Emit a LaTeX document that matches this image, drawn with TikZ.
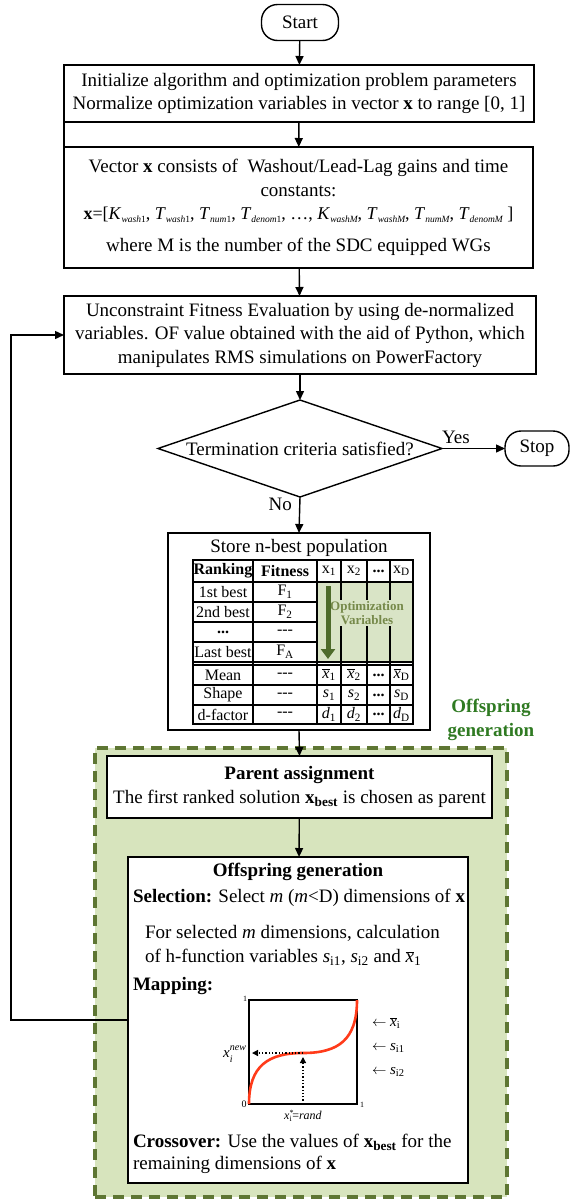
\documentclass[tikz,border=0pt]{standalone}
\usepackage{fontspec}
\setmainfont{Liberation Serif}
\usetikzlibrary{shapes.geometric,arrows.meta}
\definecolor{panelfill}{HTML}{D7E4BD}
\definecolor{paneledge}{HTML}{5E7633}
\definecolor{panellabel}{HTML}{2F7A22}
\definecolor{varfill}{HTML}{D9E4C6}
\definecolor{vartext}{HTML}{76894A}
\definecolor{vararrow}{HTML}{4E6B2B}
\definecolor{curvered}{HTML}{FF3B1A}
\newcommand\sub[1]{\textsubscript{#1}}
\newcommand\ital[1]{\textit{#1}}
\newcommand\xbr{\ensuremath{\overline{\mbox{\itshape x}}}}
\newcommand\vsub[2]{\ital{#1}\raisebox{-0.35ex}{\fontsize{9.5}{10}\selectfont\itshape #2}}
\newcommand\tdash{-{}-{}-}
\begin{document}
\begin{tikzpicture}[x=1pt,y=-1pt,
  every node/.style={inner sep=0pt, outer sep=0pt},
  base/.style={font=\fontsize{19}{23.5}\selectfont},
  box/.style={draw, line width=1.4pt, fill=white, align=center, base},
  term/.style={draw, line width=1.4pt, rounded corners=16pt, base},
  arr/.style={-{Triangle[length=9pt,width=8pt]}, line width=1.4pt},
  tbl/.style={font=\fontsize{16}{18}\selectfont},
  txt/.style={base, anchor=west},
  glab/.style={font=\fontsize{15}{16}\selectfont, anchor=west},
  tick/.style={font=\fontsize{8}{8}\selectfont}]
\useasboundingbox (0,0) rectangle (570,1200);

% ---------- main flow ----------
\node[term, minimum width=77pt, minimum height=36pt] (start) at (300,22.5) {Start};
\node[box, minimum width=470pt, minimum height=57pt] (b1) at (299,93.5)
  {Initialize algorithm and optimization problem parameters\\
   Normalize optimization variables in vector \textbf{x} to range [0, 1]};
\node[box, minimum width=469pt, minimum height=121pt] (b2) at (298.5,207.5)
  {Vector \textbf{x} consists of\ \ Washout/Lead-Lag gains and time\\
   constants:\\
   {\fontsize{18}{23.5}\selectfont\textbf{x}=[\vsub{K}{wash\upshape1}, \vsub{T}{wash\upshape1}, \vsub{T}{num\upshape1}, \vsub{T}{denom\upshape1}, \dots, \vsub{K}{washM}, \vsub{T}{washM}, \vsub{T}{numM}, \vsub{T}{denomM} ]}\\[8pt]
   where M is the number of the SDC equipped WGs};
\draw[line width=1.4pt] (b1.south west) -- (b2.north west);
\node[box, minimum width=472pt, minimum height=78pt] (b3) at (300,335)
  {Unconstraint Fitness Evaluation by using de-normalized\\
   variables. OF value obtained with the aid of Python, which\\
   manipulates RMS simulations on PowerFactory};
\node[diamond, draw, line width=1.4pt, minimum width=284pt, minimum height=97pt, aspect=2.9] (dec) at (300,448.5) {};
\node[base] (dectxt) at (dec.center) {Termination criteria satisfied?};
\node[term, minimum width=64pt, minimum height=35pt] (stop) at (537,448.5) {Stop};

\draw[arr] (start) -- (b1);
\draw[arr] (b1) -- (b2);
\draw[arr] (b2) -- (b3);
\draw[arr] (b3) -- (dec);
\draw[arr] (dec.east) -- node[base, above=5pt, pos=0.22] (yes) {Yes} (stop.west);

% ---------- population store ----------
\node[draw, line width=1.4pt, fill=white, minimum width=262pt, minimum height=197pt] (store) at (299,631.5) {};
\draw[arr] (dec.south) -- node[base, left=8pt, pos=0.2] (no) {No} (store.north);
\node[base] (storetitle) at (299,548) {Store n-best population};

\fill[varfill] (317,582) rectangle (413,662);
\begin{scope}[line width=1.4pt]
  \draw (193,560) rectangle (413,724);
  \foreach \cxp in {253,317,341,367,390} \draw (\cxp,560) -- (\cxp,724);
  \draw (193,582) -- (413,582);
  \foreach \ryp in {602,622,642} \draw (193,\ryp) -- (317,\ryp);
  \foreach \ryp in {662,665,685,705} \draw (193,\ryp) -- (413,\ryp);
\end{scope}
\node[font=\fontsize{13}{14}\selectfont\bfseries, text=vartext, fill=varfill, align=center, inner sep=1pt] (vars) at (367,613) {Optimization\\Variables};
\draw[vararrow, line width=5pt, -{Triangle[length=10pt,width=14pt]}] (328,586) -- (328,659);

% header and ranking rows
\foreach \nm/\yc/\ra/\rb in {h/571/\textbf{Ranking}/\textbf{Fitness},
    r1/592/1st best/F\sub{1}, r2/612/2nd best/F\sub{2},
    r3/632/\textbf{...}/\tdash, r4/652/Last best/F\sub{A},
    r5/675/Mean/\tdash, r6/695/Shape/\tdash, r7/714.5/d-factor/\tdash}{
  \node[tbl] (\nm-a) at (223,\yc) {\ra};
  \node[tbl] (\nm-b) at (285,\yc) {\rb};
}
\foreach \nm/\yc/\ca/\cb/\cc/\cd in {h/571/x\sub{1}/x\sub{2}/\textbf{...}/x\sub{D},
    r5/675/\xbr\sub{1}/\xbr\sub{2}/\textbf{...}/\xbr\sub{D},
    r6/695/\ital{s}\sub{1}/\ital{s}\sub{2}/\textbf{...}/\ital{s}\sub{D},
    r7/714.5/\ital{d}\sub{1}/\ital{d}\sub{2}/\textbf{...}/\ital{d}\sub{D}}{
  \node[tbl] (\nm-c) at (329,\yc) {\ca};
  \node[tbl] (\nm-d) at (354,\yc) {\cb};
  \node[tbl] (\nm-e) at (378.5,\yc) {\cc};
  \node[tbl] (\nm-f) at (401.5,\yc) {\cd};
}

% ---------- offspring panel ----------
\node[draw=paneledge, fill=panelfill, line width=3.5pt, dash pattern=on 11pt off 7pt,
      minimum width=412pt, minimum height=449pt] (panel) at (301,972.5) {};
\node[base, font=\fontsize{19}{23.5}\selectfont\bfseries, text=panellabel, align=center] (panellbl) at (491,720) {Offspring\\generation};

\node[box, minimum width=385pt, minimum height=62pt] (parent) at (299.5,787)
  {\textbf{Parent assignment}\\
   The first ranked solution \textbf{x}\sub{\textbf{best}} is chosen as parent};
\node[draw, line width=1.4pt, fill=white, minimum width=340pt, minimum height=326pt] (off) at (298,1020) {};

\draw[arr] (store.south) -- (parent.north);
\draw[arr] (parent) -- (off);

\node[base, font=\fontsize{19}{23.5}\selectfont\bfseries] (offtitle) at (298,872) {Offspring generation};
\node[txt] (sel) at (133,898) {\textbf{Selection:} Select \ital{m} (\ital{m}<D) dimensions of \textbf{x}};
\node[txt] (calc1) at (145,933) {For selected \ital{m} dimensions, calculation};
\node[txt] (calc2) at (145,957) {of h-function variables \ital{s}\sub{i1}, \ital{s}\sub{i2} and \xbr\sub{1}};
\node[txt] (mapl) at (133,986) {\textbf{Mapping:}};
\node[txt] (cross1) at (133,1142) {\textbf{Crossover:} Use the values of \textbf{x}\sub{\textbf{best}} for the};
\node[txt] (cross2) at (133,1165) {remaining dimensions of \textbf{x}};

% mapping curve
\draw[line width=1.4pt] (249,1000) rectangle (357,1104);
\draw[curvered, line width=2.6pt] (249,1104) .. controls (249,1066) and (268,1053) .. (303,1053)
  .. controls (338,1053) and (357,1040) .. (357,1000);
\draw[dotted, line width=1.3pt, -{Triangle[length=6pt,width=6pt]}] (303,1053) -- (252,1053);
\draw[dotted, line width=1.3pt, -{Triangle[length=6pt,width=6pt]}] (303,1104) -- (303,1057);
\node[tick] (t1) at (245,999) {1};
\node[tick, font=\fontsize{10}{10}\selectfont] (t0) at (244,1104) {0};
\node[tick] (t1b) at (362,1105) {1};
\node[font=\fontsize{15}{15}\selectfont, anchor=east] (xnew) at (246,1054)
  {\ital{x}\rlap{\raisebox{-5pt}{\fontsize{10}{10}\selectfont\itshape i}}\raisebox{7pt}{\fontsize{10}{10}\selectfont\itshape new}};
\node[font=\fontsize{12}{12}\selectfont] (xrand) at (303,1116)
  {\ital{x}\rlap{\textsuperscript{*}}\textsubscript{i}=\ital{rand}};
\node[glab] (lxb) at (372,1023) {$\leftarrow$ \xbr\sub{i}};
\node[glab] (ls1) at (372,1048) {$\leftarrow$ \ital{s}\sub{i1}};
\node[glab] (ls2) at (372,1072) {$\leftarrow$ \ital{s}\sub{i2}};

% feedback loop to the fitness evaluation
\coordinate (fb) at (11,0);
\draw[arr] (off.west) -- (off.west -| fb) -- (fb |- b3.west) -- (b3.west);
\end{tikzpicture}
\end{document}
